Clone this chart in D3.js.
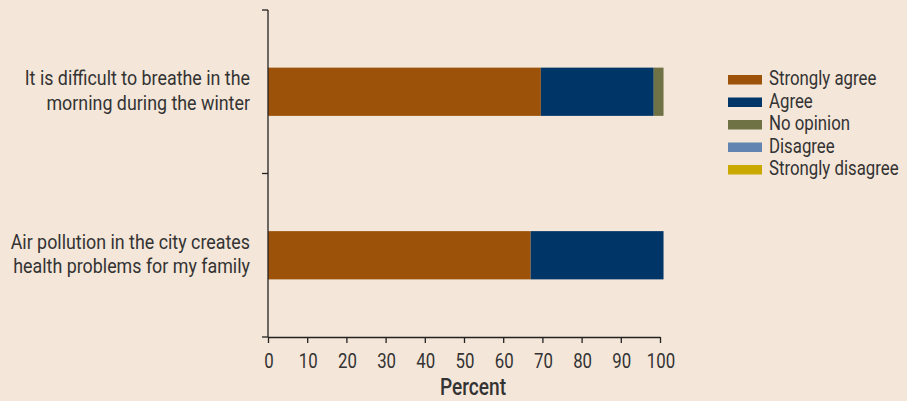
<!DOCTYPE html>
<html><head><meta charset="utf-8">
<script src="https://cdn.jsdelivr.net/npm/d3@7"></script>
<style>
html,body{margin:0;padding:0;background:#f4e6d9;}
svg{display:block;}
text{font-family:"Roboto","Liberation Sans",sans-serif;fill:#333;}
</style></head>
<body><svg id="c" width="907" height="401"></svg>
<script>
const categories = [
  ["It is difficult to breathe in the", "morning during the winter"],
  ["Air pollution in the city creates", "health problems for my family"]
];
const seriesNames = ["Strongly agree", "Agree", "No opinion", "Disagree", "Strongly disagree"];
const stronglyAgree = [69.6, 67.0];
const agree = [28.8, 33.9];
const noOpinion = [2.5, 0];
const disagree = [0, 0];
const stronglyDisagree = [0, 0];
const xTicks = [0, 10, 20, 30, 40, 50, 60, 70, 80, 90, 100];
const colors = ["#9c5209", "#003567", "#6e7244", "#6184b1", "#c9a900"];

(function () {
const svg = d3.select("#c");
const mLeft = 268, mRight = 660, mTop = 10, mBottom = 337;
const x = d3.scaleLinear().domain([0, 100]).range([mLeft, mRight]);
const y = d3.scaleBand().domain(d3.range(categories.length)).range([mTop, mBottom]).paddingInner(0.705).paddingOuter(0.3525);

// condense text horizontally (reference uses a condensed typeface)
function condense(sel, f) {
  sel.each(function () {
    const w = this.getComputedTextLength();
    d3.select(this).attr("textLength", w * f).attr("lengthAdjust", "spacingAndGlyphs");
  });
}

const rows = categories.map((c, i) => ({
  i, vals: [stronglyAgree[i], agree[i], noOpinion[i], disagree[i], stronglyDisagree[i]]
}));
const stack = d3.stack().keys(d3.range(5)).value((d, k) => d.vals[k]);
const series = stack(rows);

svg.append("g").selectAll("g").data(series).join("g")
  .attr("fill", (d, k) => colors[k])
  .selectAll("rect").data(d => d).join("rect")
  .attr("x", d => x(d[0]))
  .attr("width", d => x(d[1]) - x(d[0]))
  .attr("y", d => y(d.data.i))
  .attr("height", y.bandwidth());

// x axis
const xa = svg.append("g").attr("transform", `translate(0,${mBottom})`)
  .call(d3.axisBottom(x).tickValues(xTicks).tickSize(6).tickSizeOuter(0));
xa.select(".domain").attr("stroke", "#222").attr("stroke-width", 1.3);
xa.selectAll(".tick line").attr("stroke", "#222").attr("stroke-width", 1.3);
xa.selectAll("text").attr("font-size", 21).attr("font-family", null).attr("fill", "#333")
  .attr("y", 31).attr("dy", 0).attr("x", 0.5);
condense(xa.selectAll("text"), 0.8);

// y axis
const yaLine = svg.append("g");
yaLine.append("line").attr("x1", mLeft).attr("x2", mLeft).attr("y1", mTop).attr("y2", mBottom)
  .attr("stroke", "#222").attr("stroke-width", 1.3);
const bounds = [mTop, ...d3.range(1, categories.length).map(i => y(i) - y.step() * y.paddingInner() / 2), mBottom];
yaLine.selectAll("line.t").data(bounds).join("line").attr("class", "t")
  .attr("x1", mLeft - 6).attr("x2", mLeft).attr("y1", d => d).attr("y2", d => d)
  .attr("stroke", "#222").attr("stroke-width", 1.3);

// category labels
categories.forEach((lines, i) => {
  const cy = y(i) + y.bandwidth() / 2;
  lines.forEach((ln, j) => {
    const t = svg.append("text").attr("text-anchor", "end").attr("font-size", 21)
      .attr("x", 250).attr("y", cy - 6.5 + j * 24.5).text(ln);
    condense(t, 0.85);
  });
});

// x axis title
const xt = svg.append("text").attr("x", 473).attr("y", 395).attr("text-anchor", "middle")
  .attr("font-size", 23).attr("font-weight", 500).text("Percent");
condense(xt, 0.83);

// legend
const lg = svg.append("g").attr("transform", "translate(728,75)");
seriesNames.forEach((n, k) => {
  lg.append("rect").attr("y", k * 22.5).attr("width", 34).attr("height", 9.5).attr("fill", colors[k]);
  lg.append("text").attr("transform", `translate(41,${10.3 + k * 22.5}) scale(0.8,1)`)
    .attr("font-size", 21).text(n);
});
})();
</script></body></html>
